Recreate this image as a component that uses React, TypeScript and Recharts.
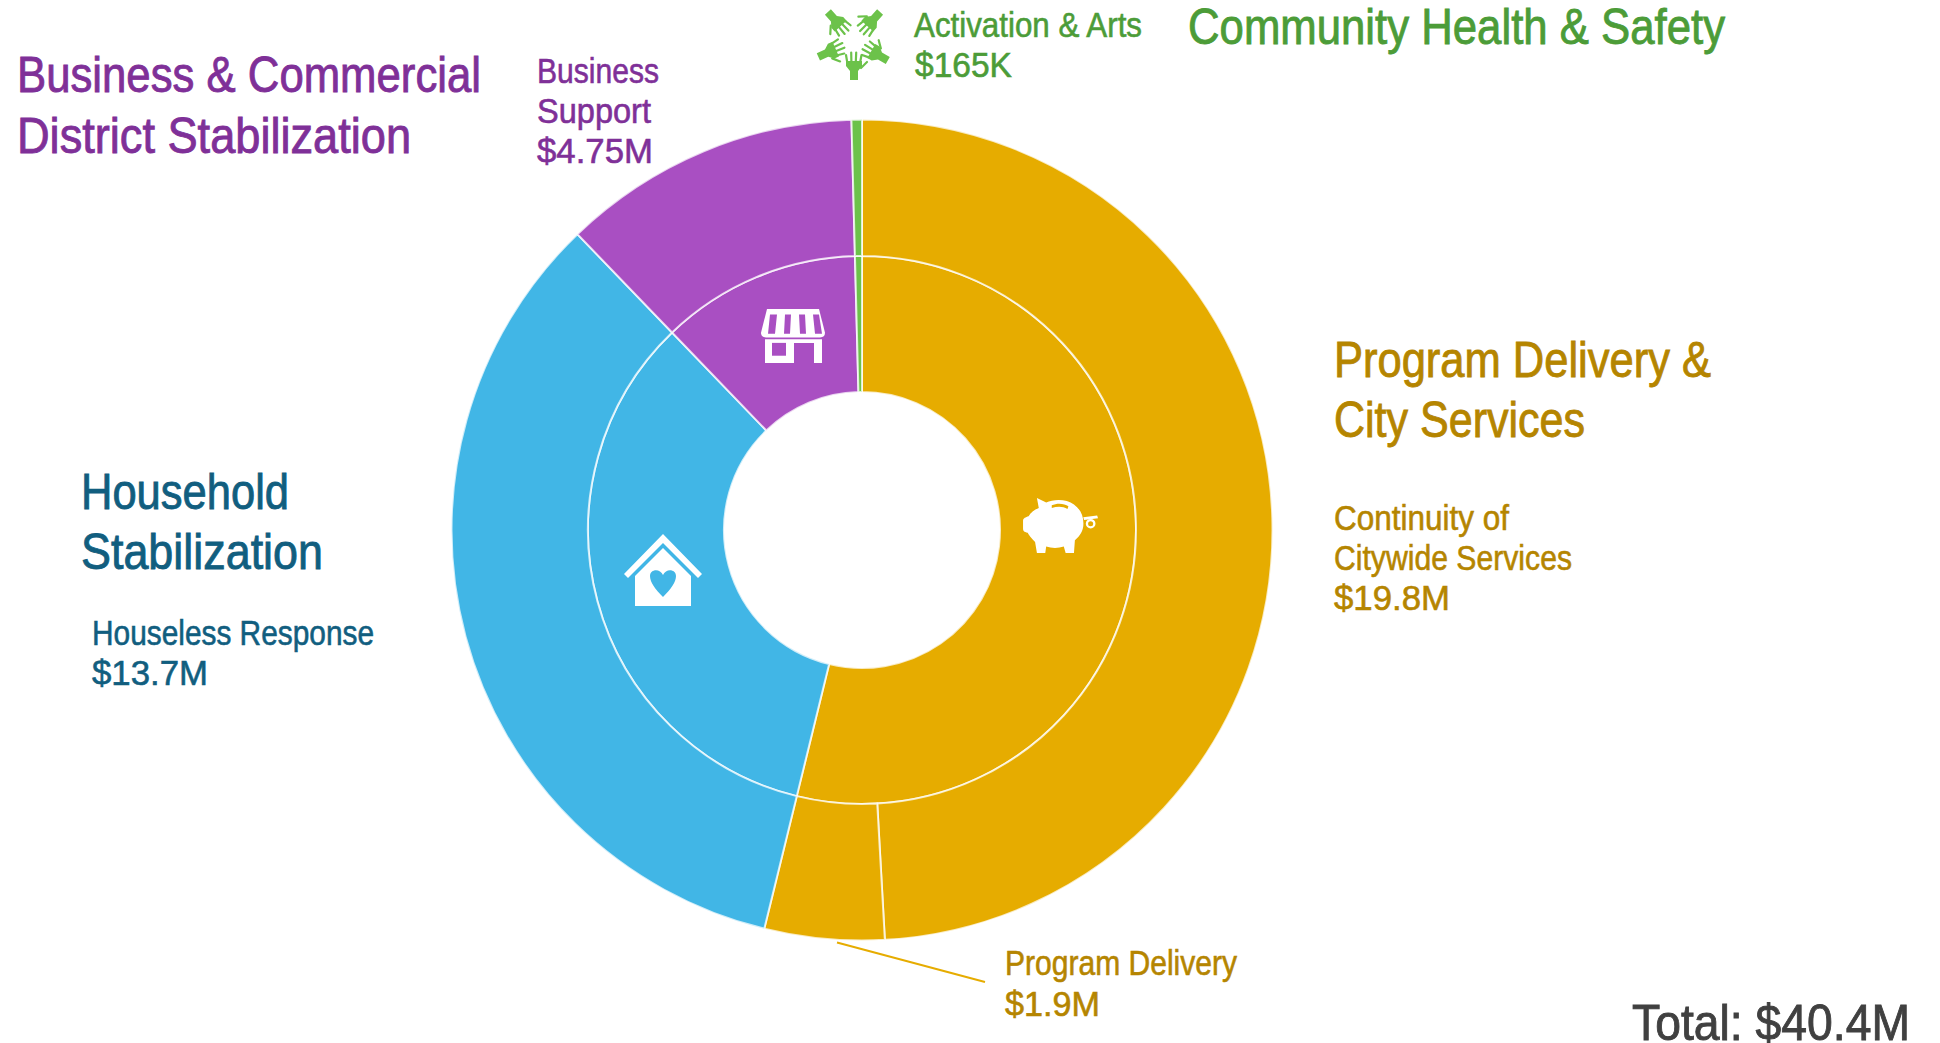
import React from "react";
import { PieChart, Pie } from "recharts";

// budget in $M
const programs = ["Continuity of Citywide Services", "Program Delivery", "Houseless Response", "Business Support", "Activation & Arts"];
const programValues = [19.8, 1.9, 13.7, 4.75, 0.165];
const programColors = ["#E6AC00", "#E6AC00", "#41B6E6", "#A94FC2", "#6CC24A"];

const groups = ["Program Delivery & City Services", "Household Stabilization", "Business & Commercial District Stabilization", "Community Health & Safety"];
const groupValues = [21.7, 13.7, 4.75, 0.165];
const groupColors = ["#E6AC00", "#41B6E6", "#A94FC2", "#6CC24A"];

const outerData = programs.map((name, i) => ({ name, value: programValues[i], fill: programColors[i] }));
const innerData = groups.map((name, i) => ({ name, value: groupValues[i], fill: groupColors[i] }));

const FONT = '"Liberation Sans Narrow", "Liberation Sans", sans-serif';
const GOLD_TEXT = "#B58500";
const TEAL_TEXT = "#115E7F";
const PURPLE_TEXT = "#7F3098";
const GREEN_TEXT = "#4C9C38";

// width is forced so the narrow font lines up with the original condensed face,
// thin stroke stands in for its medium weight
const Label = ({ x, y, w, size, color, children }: any) => (
  <text
    x={x}
    y={y}
    fontFamily={FONT}
    fontSize={size}
    fill={color}
    stroke={color}
    strokeWidth={size > 40 ? 0.9 : 0.6}
    textLength={w}
    lengthAdjust="spacingAndGlyphs"
  >
    {children}
  </text>
);

const StoreIcon = () => (
  <g fill="#fff" transform="translate(0 25.6) scale(1 0.917)">
    <path d="M767 309 H819 L825 335 Q825 340 820 340 H766 Q761 340 761 335 Z" />
    <path fill="#A94FC2" d="M770 315 H777 L775 336 H768 Z M785 315 H791 L790 336 H784 Z M799 315 H805 L806 336 H800 Z M813 315 H819 L822 336 H815 Z" />
    <path d="M765 345 H794 V368 H765 Z M814 345 H822 V368 H814 Z M765 342 H822 V346 H765 Z" />
    <rect x={772} y={346} width={14} height={14} fill="#A94FC2" />
  </g>
);

const HouseIcon = () => (
  <g fill="#fff" transform="translate(0 -20)">
    <path d="M663 554 L702 594 L698 598 L663 563 L628 598 L624 594 Z" />
    <path d="M663 568 L691 596 V626 H635 V596 Z" />
    <path fill="#41B6E6" d="M663 617 C655 609 650 602 650 596 C650 589 660 588 663 595 C666 588 676 589 676 596 C676 602 671 609 663 617 Z" />
  </g>
);

const PigIcon = () => (
  <g fill="#fff" transform="translate(81.3 27.6) scale(0.926 0.917)">
    <path d="M1032 513 L1042 518 C1050 514 1064 514 1072 520 C1080 526 1083 534 1082 544 C1081 552 1076 556 1073 559 L1072 573 H1063 L1061 566 C1055 568 1048 568 1042 566 L1041 573 H1032 L1030 561 C1026 557 1023 553 1022 551 C1018 550 1017 549 1017 546 V538 C1017 535 1020 534 1023 533 C1025 529 1029 526 1034 524 Z" />
    <path d="M1082 534 L1097 532 L1098 535 L1083 537 Z" />
    <circle cx={1090} cy={541} r={4} fill="none" stroke="#fff" strokeWidth={2.5} />
    <path fill="#E6AC00" d="M1048 521 C1054 518 1062 519 1066 522 L1065 525 C1060 522 1054 522 1048 524 Z" />
  </g>
);

// one hand pointing up at the middle, rotated round the ring five times
const handAngles = [0, 66, 138, 222, 300];
const HandsIcon = () => (
  <g transform="translate(854 41)">
    {handAngles.map((a) => (
      <g key={a} transform={`rotate(${a})`} fill="#6CC24A" stroke="#6CC24A" strokeLinecap="round">
        <path stroke="none" d="M-4 39 V30 L-8 25 V20 H8 V25 L4 30 V39 Z" />
        <g strokeWidth={2.2} fill="none">
          <path d="M-6.8 21 L-8 14" />
          <path d="M-2.6 21 L-2.8 11.5" />
          <path d="M1.8 21 L2.2 11.5" />
          <path d="M6.2 21 L7.5 14" />
          <path d="M7 27 L13 21" />
        </g>
      </g>
    ))}
  </g>
);

export default function App() {
  return (
    <div style={{ position: "absolute", left: 0, top: 0, width: 1940, height: 1043, background: "#fff" }}>
      <PieChart width={1940} height={1043} margin={{ top: 0, right: 0, bottom: 0, left: 0 }}>
        <Pie
          data={innerData}
          dataKey="value"
          nameKey="name"
          cx={862}
          cy={530}
          innerRadius={138}
          outerRadius={274}
          startAngle={90}
          endAngle={-270}
          stroke="#fff"
          strokeOpacity={0.75}
          strokeWidth={2}
          isAnimationActive={false}
        />
        <Pie
          data={outerData}
          dataKey="value"
          nameKey="name"
          cx={862}
          cy={530}
          innerRadius={274}
          outerRadius={410.5}
          startAngle={90}
          endAngle={-270}
          stroke="#fff"
          strokeOpacity={0.75}
          strokeWidth={2}
          isAnimationActive={false}
        />

        <line x1={837} y1={942.5} x2={985} y2={982} stroke="#E6AC00" strokeWidth={2} />

        <Label x={17} y={91.5} w={464} size={50} color={PURPLE_TEXT}>Business &amp; Commercial</Label>
        <Label x={17} y={152.5} w={394} size={50} color={PURPLE_TEXT}>District Stabilization</Label>
        <Label x={537} y={83} w={122} size={35} color={PURPLE_TEXT}>Business</Label>
        <Label x={537} y={123} w={114} size={35} color={PURPLE_TEXT}>Support</Label>
        <Label x={537} y={163} w={116} size={35} color={PURPLE_TEXT}>$4.75M</Label>

        <Label x={914} y={37} w={228} size={35} color={GREEN_TEXT}>Activation &amp; Arts</Label>
        <Label x={915} y={77} w={97} size={35} color={GREEN_TEXT}>$165K</Label>
        <Label x={1188} y={44} w={537} size={50} color={GREEN_TEXT}>Community Health &amp; Safety</Label>

        <Label x={1334} y={377} w={377} size={50} color={GOLD_TEXT}>Program Delivery &amp;</Label>
        <Label x={1334} y={437} w={251} size={50} color={GOLD_TEXT}>City Services</Label>
        <Label x={1334} y={530} w={175} size={35} color={GOLD_TEXT}>Continuity of</Label>
        <Label x={1334} y={570} w={238} size={35} color={GOLD_TEXT}>Citywide Services</Label>
        <Label x={1334} y={610} w={116} size={35} color={GOLD_TEXT}>$19.8M</Label>

        <Label x={81} y={509} w={208} size={50} color={TEAL_TEXT}>Household</Label>
        <Label x={81} y={569} w={242} size={50} color={TEAL_TEXT}>Stabilization</Label>
        <Label x={92} y={645} w={282} size={35} color={TEAL_TEXT}>Houseless Response</Label>
        <Label x={92} y={685} w={116} size={35} color={TEAL_TEXT}>$13.7M</Label>

        <Label x={1005} y={975} w={232} size={35} color={GOLD_TEXT}>Program Delivery</Label>
        <Label x={1005} y={1016} w={95} size={35} color={GOLD_TEXT}>$1.9M</Label>

        <Label x={1632} y={1040} w={278} size={50} color="#404040">Total: $40.4M</Label>
      </PieChart>
      {/* Pie paints over plain chart children, so the icons go in a layer on top */}
      <svg width={1940} height={1043} style={{ position: "absolute", left: 0, top: 0, pointerEvents: "none" }}>
        <StoreIcon />
        <HouseIcon />
        <PigIcon />
        <HandsIcon />
      </svg>
    </div>
  );
}
